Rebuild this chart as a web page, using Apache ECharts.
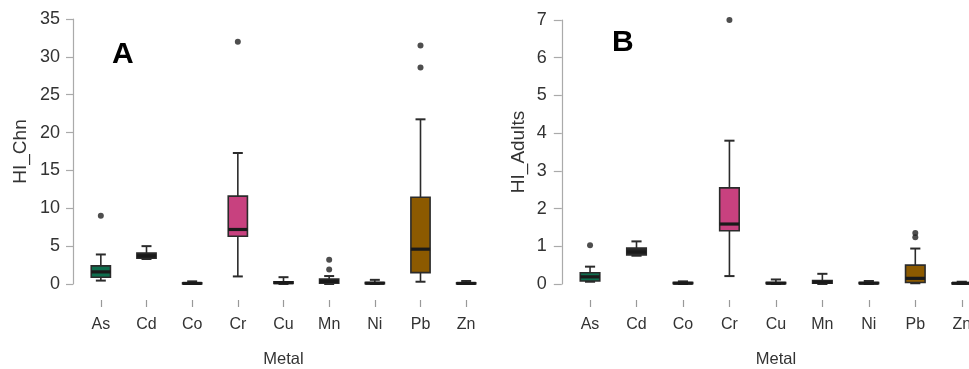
<!DOCTYPE html>
<html><head><meta charset="utf-8">
<script src="https://cdn.jsdelivr.net/npm/echarts@6/dist/echarts.min.js"></script>
<style>html,body{margin:0;padding:0;background:#fff}#c{width:969px;height:369px}</style>
</head><body><div id="c"></div>
<script>
// categories
const categories = ['As','Cd','Co','Cr','Cu','Mn','Ni','Pb','Zn'];
// Panel A (HI_Chn): [low, Q1, median, Q3, high]
const boxA = [
  [0.45, 0.9, 1.6, 2.4, 3.9],
  [3.3, 3.4, 3.7, 4.1, 5.0],
  [0, 0.03, 0.08, 0.15, 0.35],
  [1.0, 6.3, 7.2, 11.6, 17.3],
  [0, 0.08, 0.18, 0.3, 0.9],
  [0, 0.1, 0.35, 0.65, 1.05],
  [0, 0.04, 0.1, 0.2, 0.55],
  [0.3, 1.5, 4.6, 11.45, 21.75],
  [0, 0.03, 0.08, 0.15, 0.4]
];
const outA = [[0, 9.0], [3, 32.0], [5, 1.9], [5, 3.2], [7, 28.6], [7, 31.5]];
// Panel B (HI_Adults)
const boxB = [
  [0.06, 0.08, 0.19, 0.3, 0.46],
  [0.75, 0.77, 0.85, 0.95, 1.13],
  [0, 0.01, 0.02, 0.04, 0.07],
  [0.21, 1.41, 1.59, 2.55, 3.8],
  [0, 0.01, 0.02, 0.04, 0.12],
  [0, 0.02, 0.05, 0.09, 0.27],
  [0, 0.01, 0.02, 0.04, 0.08],
  [0.02, 0.04, 0.15, 0.5, 0.94],
  [0, 0.01, 0.02, 0.03, 0.06]
];
const outB = [[0, 1.03], [3, 7.0], [7, 1.24], [7, 1.35]];
const ticksA = [0, 5, 10, 15, 20, 25, 30, 35];
const ticksB = [0, 1, 2, 3, 4, 5, 6, 7];

const fills = ['#0e6e4e','#262626','#262626','#c8417f','#262626','#262626','#262626','#8c5a00','#262626'];
const ink = '#2b2b2b';
const FONT = 'Liberation Sans, Arial, sans-serif';

function renderBox(params, api) {
  const i = api.value(0);
  const lo = api.coord([i, api.value(1)]);
  const q1 = api.coord([i, api.value(2)]);
  const md = api.coord([i, api.value(3)]);
  const q3 = api.coord([i, api.value(4)]);
  const hi = api.coord([i, api.value(5)]);
  const bw = api.size([1, 0])[0] * 0.42;
  const cw = bw * 0.52;
  const x = lo[0];
  const ls = {stroke: ink, lineWidth: 1.6};
  return {type: 'group', children: [
    {type: 'line', shape: {x1: x, y1: q3[1], x2: x, y2: hi[1]}, style: ls},
    {type: 'line', shape: {x1: x, y1: q1[1], x2: x, y2: lo[1]}, style: ls},
    {type: 'line', shape: {x1: x - cw/2, y1: hi[1], x2: x + cw/2, y2: hi[1]}, style: {stroke: ink, lineWidth: 2}},
    {type: 'line', shape: {x1: x - cw/2, y1: lo[1], x2: x + cw/2, y2: lo[1]}, style: {stroke: ink, lineWidth: 2}},
    {type: 'rect', shape: {x: x - bw/2, y: q3[1], width: bw, height: Math.max(q1[1] - q3[1], 1)},
      style: {fill: fills[i], stroke: ink, lineWidth: 1.6}},
    {type: 'line', shape: {x1: x - bw/2, y1: md[1], x2: x + bw/2, y2: md[1]}, style: {stroke: '#1a1a1a', lineWidth: 3.2}}
  ]};
}

function yAxis(gi, max, ticks, name, gap, margin, tlen) {
  return {
    type: 'value', gridIndex: gi, min: 0, max: max, interval: ticks[1] - ticks[0], offset: 5,
    name: name, nameLocation: 'middle', nameGap: gap,
    nameTextStyle: {fontSize: 19, color: '#333', fontFamily: FONT},
    axisLine: {show: true, onZero: false, lineStyle: {color: '#aaa', width: 1.2}},
    axisTick: {show: true, length: tlen, lineStyle: {color: '#aaa', width: 1.2}},
    axisLabel: {fontSize: 18, color: '#333', fontFamily: FONT, margin: margin},
    splitLine: {show: false}
  };
}
function xAxis(gi) {
  return {
    type: 'category', gridIndex: gi, data: categories, offset: 16,
    name: 'Metal', nameLocation: 'middle', nameGap: 51,
    nameTextStyle: {fontSize: 16.5, color: '#333', fontFamily: FONT},
    axisLine: {show: false, onZero: false},
    axisTick: {show: true, alignWithLabel: true, length: 7, lineStyle: {color: '#999', width: 1.2}},
    axisLabel: {fontSize: 16, color: '#333', fontFamily: FONT, margin: 17},
    splitLine: {show: false}
  };
}

const chart = echarts.init(document.getElementById('c'), null, {renderer: 'canvas'});
chart.setOption({
  animation: false,
  backgroundColor: '#fff',
  title: [
    {text: 'A', left: 112, top: 40, padding: 0, textStyle: {fontSize: 30, fontWeight: 'bold', color: '#000', fontFamily: FONT}},
    {text: 'B', left: 612, top: 28, padding: 0, textStyle: {fontSize: 30, fontWeight: 'bold', color: '#000', fontFamily: FONT}}
  ],
  grid: [
    {left: 78, top: 19, width: 411, height: 265, containLabel: false, outerBoundsMode: 'none'},
    {left: 566.8, top: 20, width: 418.2, height: 264, containLabel: false, outerBoundsMode: 'none'}
  ],
  xAxis: [xAxis(0), xAxis(1)],
  yAxis: [yAxis(0, 35, ticksA, 'HI_Chn', 43, 13, 7), yAxis(1, 7, ticksB, 'HI_Adults', 34, 15, 8)],
  series: [
    {type: 'custom', xAxisIndex: 0, yAxisIndex: 0, renderItem: renderBox,
     encode: {x: 0, y: [1,2,3,4,5]}, data: boxA.map((b, i) => [i].concat(b))},
    {type: 'scatter', xAxisIndex: 0, yAxisIndex: 0, symbolSize: 6, itemStyle: {color: '#222'}, data: outA},
    {type: 'custom', xAxisIndex: 1, yAxisIndex: 1, renderItem: renderBox,
     encode: {x: 0, y: [1,2,3,4,5]}, data: boxB.map((b, i) => [i].concat(b))},
    {type: 'scatter', xAxisIndex: 1, yAxisIndex: 1, symbolSize: 6, itemStyle: {color: '#222'}, data: outB}
  ]
});
</script></body></html>
